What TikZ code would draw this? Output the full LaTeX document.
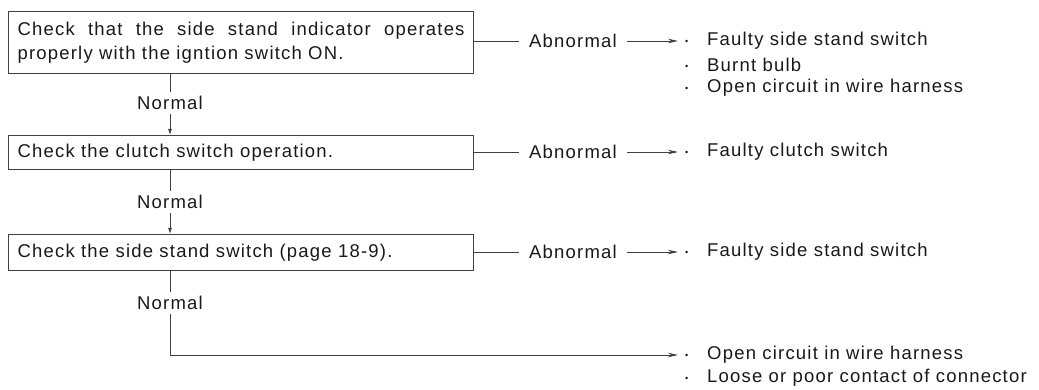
\documentclass[tikz,border=0pt]{standalone}
\usepackage{fontspec}
\setmainfont{Liberation Sans}[LetterSpace=6.5]
\usepackage{tikz}
\usetikzlibrary{arrows.meta, positioning}

\tikzset{
    chkbox/.style={draw=black!75, line width=1.1pt, anchor=north west,
        inner xsep=9pt, text width=447pt, align=justify, text=black!90},
    lbl/.style={inner sep=4pt, text=black!90},
    item/.style={anchor=west, inner sep=0pt, text=black!90},
    conn/.style={black!75, line width=0.9pt},
    downarrow/.style={conn, -{Latex[length=6pt, width=4pt]}},
    outarrow/.style={conn, -{Stealth[length=10pt, width=4.5pt]}}
}
\newcommand{\blt}{\makebox[29pt][l]{\hspace{7pt}\raisebox{1.6pt}{\fontsize{9}{9}\selectfont\textbullet}}}

\begin{document}
\begin{tikzpicture}[x=1pt, y=-1pt]
    \fontsize{18.5}{23.5}\selectfont
    \hyphenpenalty=10000 \exhyphenpenalty=10000
    \useasboundingbox (0,0) rectangle (1039,390);
    % 1. Cac buoc kiem tra
    \node[chkbox, minimum height=62pt] (chk1) at (8,11)
        {Check that the side stand indicator operates properly with the igntion switch ON.};
    \node[chkbox, minimum height=34pt] (chk2) at (8,135) {Check the clutch switch operation.};
    \node[chkbox, minimum height=36pt] (chk3) at (8,234) {Check the side stand switch (page 18-9).};

    % 2. Nhanh Normal
    \node[lbl] (nrm1) at (170,103) {Normal};
    \node[lbl] (nrm2) at (170,202) {Normal};
    \node[lbl] (nrm3) at (170,303) {Normal};
    \draw[conn] (chk1.south -| nrm1) -- (nrm1.north);
    \draw[downarrow] (nrm1.south) -- (chk2.north -| nrm1);
    \draw[conn] (chk2.south -| nrm2) -- (nrm2.north);
    \draw[downarrow] (nrm2.south) -- (chk3.north -| nrm2);

    % 3. Nhanh Abnormal
    \node[lbl, inner xsep=10pt] (abn1) at (573,41) {Abnormal};
    \node[lbl, inner xsep=10pt] (abn2) at (573,152) {Abnormal};
    \node[lbl, inner xsep=10pt] (abn3) at (573,252) {Abnormal};
    \node[item] (res1a) at (678,41) {\blt Faulty side stand switch};
    \node[item] (res1b) at (678,64.5) {\blt Burnt bulb};
    \node[item] (res1c) at (678,88) {\blt Open circuit in wire harness};
    \node[item] (res2a) at (678,152) {\blt Faulty clutch switch};
    \node[item] (res3a) at (678,252) {\blt Faulty side stand switch};
    \draw[conn] (chk1.east |- abn1.west) -- (abn1.west);
    \draw[outarrow] (abn1.east) -- (res1a.west);
    \draw[conn] (chk2.east |- abn2.west) -- (abn2.west);
    \draw[outarrow] (abn2.east) -- (res2a.west);
    \draw[conn] (chk3.east |- abn3.west) -- (abn3.west);
    \draw[outarrow] (abn3.east) -- (res3a.west);

    % 4. Nhanh cuoi
    \node[item] (res4a) at (678,355) {\blt Open circuit in wire harness};
    \node[item] (res4b) at (678,378) {\blt Loose or poor contact of connector};
    \draw[conn] (chk3.south -| nrm3) -- (nrm3.north);
    \draw[outarrow] (nrm3.south) |- (res4a.west);
\end{tikzpicture}
\end{document}
